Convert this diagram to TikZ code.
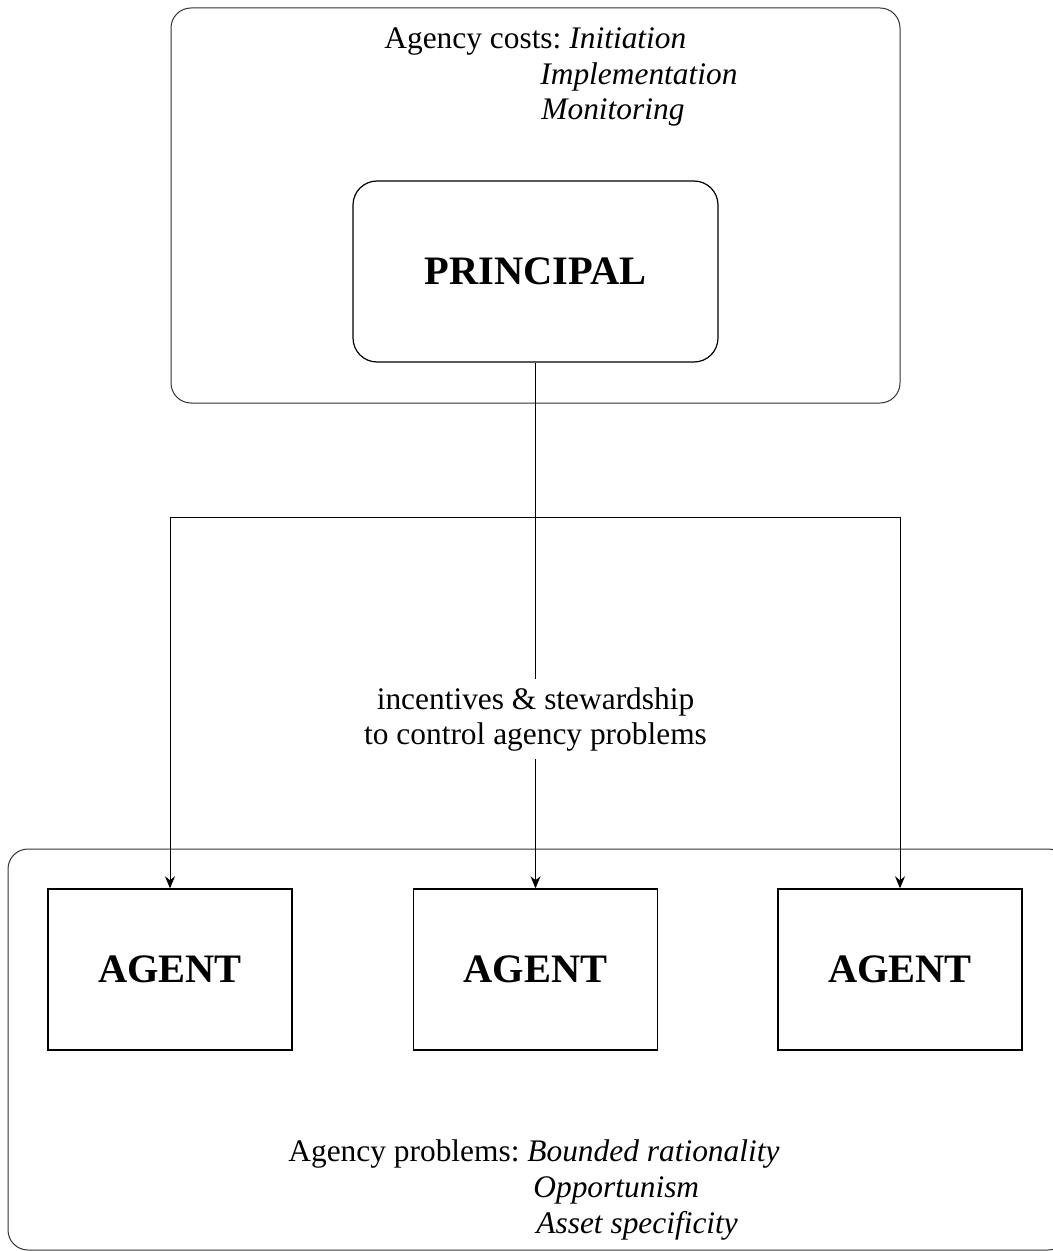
\documentclass[tikz,border=0pt]{standalone}
\usepackage{fontspec}
\setmainfont{Liberation Serif}
\usetikzlibrary{arrows.meta}
\newcommand{\txtline}[4]{\node[txt, anchor=base west] (#1) at ( #2 , #3 ) {#4};}
\tikzset{
  frame/.style={draw=black!80, line width=0.5pt, rounded corners=10pt, inner sep=0pt},
  principal/.style={draw, line width=0.6pt, rounded corners=12pt, minimum width=182.5pt, minimum height=90.5pt, font=\fontsize{20.2}{24}\selectfont\bfseries},
  agent/.style={draw, line width=0.7pt, minimum width=122pt, minimum height=80.5pt, font=\fontsize{20.2}{24}\selectfont\bfseries},
  txt/.style={inner sep=0pt, font=\fontsize{15.7}{17.5}\selectfont},
  link/.style={line width=0.5pt},
  arrowed/.style={-{Stealth[length=6pt,width=5pt]}}
}
\begin{document}
\begin{tikzpicture}[x=0.5pt,y=-0.5pt]
        \useasboundingbox (0,0) rectangle (1053,1251);

        % frames
        \node[frame, minimum width=364.5pt, minimum height=197.5pt] (costframe) at (535.5,205.5) {};
        \node[frame, minimum width=530pt, minimum height=200.5pt] (agentframe) at (538,1049.5) {};

        % principal and agents
        \node[principal] (principal) at (535.5,271.5) {PRINCIPAL};
        \node[agent] (agenta) at (170,969.5) {AGENT};
        \node[agent] (agentb) at (535.5,969.5) {AGENT};
        \node[agent] (agentc) at (900,969.5) {AGENT};

        % agency costs
        \txtline{costs}{384}{49}{Agency costs:}
        \txtline{initiation}{569}{49}{\textit{Initiation}}
        \txtline{implementation}{540}{85}{\textit{Implementation}}
        \txtline{monitoring}{541}{120}{\textit{Monitoring}}

        % agency problems
        \txtline{problems}{288}{1161}{Agency problems:}
        \txtline{bounded}{527}{1161}{\textit{Bounded rationality}}
        \txtline{opportunism}{533}{1197}{\textit{Opportunism}}
        \txtline{asset}{536}{1233}{\textit{Asset specificity}}

        % control
        \node[txt, align=center, inner sep=4pt] (incent) at (535.5,719) {incentives \& stewardship\\to control agency problems};

        \coordinate (splitlevel) at (0,517);
        \coordinate (split) at (principal.south |- splitlevel);

        \draw[link] (principal.south) -- (incent.north);
        \draw[link, arrowed] (incent.south) -- (agentb.north);
        \draw[link, arrowed] (split) -| (agenta.north);
        \draw[link, arrowed] (split) -| (agentc.north);

    \end{tikzpicture}
\end{document}
